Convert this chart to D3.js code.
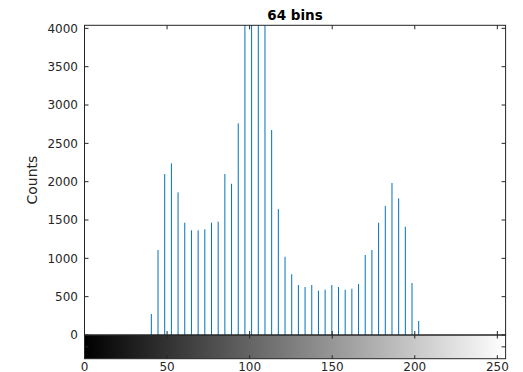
<!DOCTYPE html>
<html>
<head>
<meta charset="utf-8">
<script src="https://cdn.jsdelivr.net/npm/d3@7"></script>
<style>
  html, body { margin: 0; padding: 0; background: #fff; }
  svg { display: block; }
  text { font-family: "DejaVu Sans", sans-serif; fill: #262626; }
</style>
</head>
<body>
<svg id="chart" width="523" height="372"></svg>
<script>
// Histogram of an 8-bit image, 64 bins (bin centres evenly spaced over 0..255)
const binCount = 64;
const counts = [
  0, 0, 0, 0, 0, 0, 0, 0, 0, 0,
  274, 1109, 2100, 2239, 1861, 1465, 1366, 1366, 1379, 1465,
  1478, 2100, 1973, 2761, 4450, 5200, 5600, 4700, 2674, 1643,
  1021, 792, 652, 626, 652, 578, 591, 652, 626, 591,
  604, 665, 1043, 1109, 1465, 1683, 1983, 1783, 1413, 678,
  183, 0, 0, 0, 0, 0, 0, 0, 0, 0,
  0, 0, 0, 0
];
const xTicks = [0, 50, 100, 150, 200, 250];
const yTicks = [0, 500, 1000, 1500, 2000, 2500, 3000, 3500, 4000];
const grayLevels = [0, 255];
const titleText = "64 bins";
const yLabelText = "Counts";

const svg = d3.select("#chart");
const axisColor = "#262626";
const stemColor = "#0072BD";

const plotL = 84.5, plotR = 505.6, plotT = 25.3, plotB = 335, cbBottom = 358.7;

const x = d3.scaleLinear().domain([0, 255]).range([plotL, plotR]);
const y = d3.scaleLinear().domain([0, 4040]).range([plotB, plotT]);

const binCentres = counts.map((c, i) => ({ v: i * 255 / (binCount - 1), c }));

const defs = svg.append("defs");
// clip stems to the plot box
defs.append("clipPath").attr("id", "plotClip")
  .append("rect").attr("x", plotL).attr("y", plotT)
  .attr("width", plotR - plotL).attr("height", plotB - plotT);

// grayscale ramp for the colour bar, positioned by the x scale
const gray = d3.scaleLinear().domain(grayLevels).range(["#000000", "#ffffff"]);
const grad = defs.append("linearGradient").attr("id", "grayRamp")
  .attr("gradientUnits", "userSpaceOnUse")
  .attr("x1", x(grayLevels[0])).attr("x2", x(grayLevels[1]))
  .attr("y1", 0).attr("y2", 0);
grad.selectAll("stop").data(grayLevels).join("stop")
  .attr("offset", (d, i) => i)
  .attr("stop-color", d => gray(d));

// stems
svg.append("g").attr("clip-path", "url(#plotClip)")
  .selectAll("line").data(binCentres.filter(d => d.c > 0)).join("line")
  .attr("x1", d => x(d.v)).attr("x2", d => x(d.v))
  .attr("y1", y(0)).attr("y2", d => y(d.c))
  .attr("stroke", stemColor).attr("stroke-width", 1);

// colour bar under the histogram
svg.append("rect")
  .attr("x", x(0)).attr("width", x(255) - x(0))
  .attr("y", plotB).attr("height", cbBottom - plotB)
  .attr("fill", "url(#grayRamp)");

// histogram box
const box = svg.append("g").attr("fill", "none").attr("stroke", axisColor).attr("stroke-width", 1);
box.append("rect").attr("x", plotL).attr("y", plotT)
  .attr("width", plotR - plotL).attr("height", plotB - plotT);
// colour bar box
box.append("rect").attr("x", plotL).attr("y", plotB)
  .attr("width", plotR - plotL).attr("height", cbBottom - plotB);

// y-axis ticks (left and right, inward) with labels
const tk = 4;
const yAxis = svg.append("g");
yAxis.selectAll("line.l").data(yTicks).join("line").attr("class", "l")
  .attr("x1", plotL).attr("x2", plotL + tk)
  .attr("y1", d => y(d)).attr("y2", d => y(d))
  .attr("stroke", axisColor);
yAxis.selectAll("line.r").data(yTicks).join("line").attr("class", "r")
  .attr("x1", plotR).attr("x2", plotR - tk)
  .attr("y1", d => y(d)).attr("y2", d => y(d))
  .attr("stroke", axisColor);
yAxis.selectAll("text").data(yTicks).join("text")
  .attr("x", 78).attr("y", d => y(d)).attr("dy", "0.36em")
  .attr("text-anchor", "end").attr("font-size", 12)
  .text(d => d);

// x-axis ticks on histogram (top and bottom) and colour bar (top and bottom)
const xAxis = svg.append("g").attr("stroke", axisColor);
xTicks.forEach(t => {
  const px = x(t);
  xAxis.append("line").attr("x1", px).attr("x2", px).attr("y1", plotT).attr("y2", plotT + tk);
  xAxis.append("line").attr("x1", px).attr("x2", px).attr("y1", plotB).attr("y2", plotB - tk);
  xAxis.append("line").attr("x1", px).attr("x2", px).attr("y1", plotB).attr("y2", plotB + 3.5);
  xAxis.append("line").attr("x1", px).attr("x2", px).attr("y1", cbBottom).attr("y2", cbBottom - 3.5);
});
// colour bar's own mid tick on both sides
const cbMid = (plotB + cbBottom) / 2;
xAxis.append("line").attr("x1", plotL).attr("x2", plotL + tk).attr("y1", cbMid).attr("y2", cbMid);
xAxis.append("line").attr("x1", plotR).attr("x2", plotR - tk).attr("y1", cbMid).attr("y2", cbMid);

svg.append("g").selectAll("text").data(xTicks).join("text")
  .attr("x", d => x(d)).attr("y", 370.5)
  .attr("text-anchor", "middle").attr("font-size", 12)
  .text(d => d);

// title
svg.append("text")
  .attr("x", (plotL + plotR) / 2).attr("y", 20)
  .attr("text-anchor", "middle").attr("font-size", 13.5).attr("font-weight", "bold")
  .style("fill", "#000")
  .text(titleText);

// y label
svg.append("text")
  .attr("transform", `translate(37,${(plotT + plotB) / 2}) rotate(-90)`)
  .attr("text-anchor", "middle").attr("font-size", 14)
  .text(yLabelText);
</script>
</body>
</html>
